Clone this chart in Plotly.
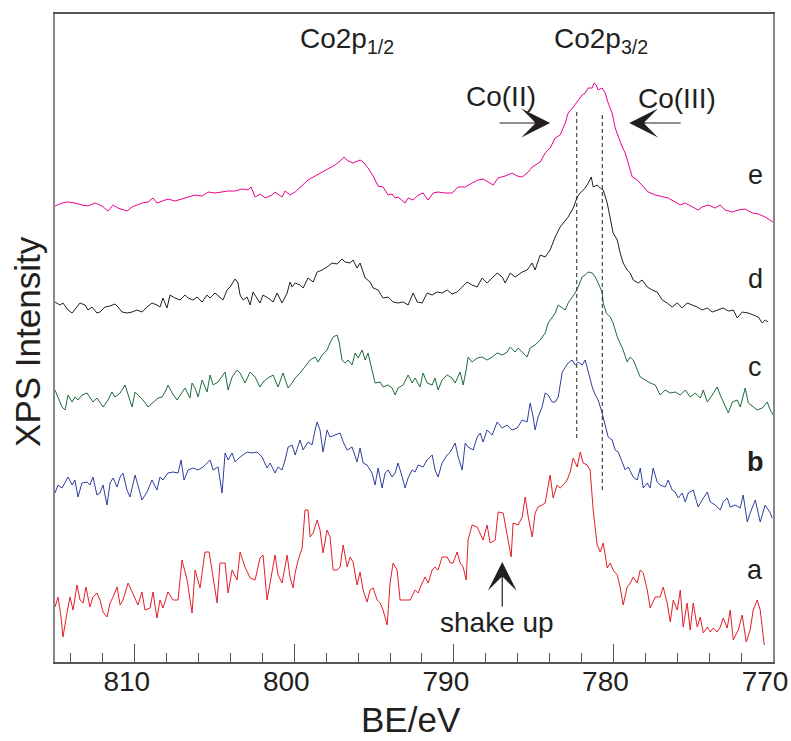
import plotly.graph_objects as go

# ---------------- data (binding energy in eV, intensity in arbitrary units) ----------------
e_be = [815.00,814.56,814.18,813.75,813.31,812.93,812.49,812.05,811.68,811.36,811.05,810.49,810.17,809.55,809.17,808.86,808.61,808.29,807.92,807.48,807.04,806.66,806.22,805.78,805.41,804.97,804.53,804.15,803.71,803.28,802.90,802.71,802.46,802.15,801.83,801.39,801.21,800.77,800.58,800.27,
        799.95,799.51,799.14,798.70,798.26,797.88,797.45,797.13,796.88,796.63,796.32,795.88,795.69,795.38,795.06,794.75,794.44,794.12,793.87,793.68,793.50,793.06,792.87,792.55,792.24,791.93,791.61,791.30,790.99,790.55,790.11,789.73,789.29,788.86,788.48,788.17,787.85,787.54,787.23,786.79,786.35,786.03,785.72,785.34,785.09,
        784.59,784.28,783.97,783.65,783.34,783.02,782.84,782.52,782.21,781.96,781.77,781.58,781.33,781.21,781.08,780.96,780.71,780.52,780.33,780.08,779.89,779.70,779.45,779.26,779.08,778.82,778.51,778.20,777.82,777.38,776.94,776.57,776.13,775.81,775.50,775.06,774.69,774.44,774.06,773.62,773.31,773.00,772.55,772.18,771.74,771.30,770.92,770.49,770.17,770.00]
e_int = [456,459,460,459,457,456,459,456,451,457,454,451,455,459,460,464,459,461,463,461,463,465,467,466,470,469,470,471,471,473,472,475,465,468,464,467,470,465,471,467,
         470,477,482,486,490,493,497,501,505,501,499,502,500,494,486,476,475,467,468,464,465,459,464,462,467,469,462,469,470,469,469,475,475,479,482,483,480,477,484,486,489,486,485,490,495,
         500,509,514,524,527,539,549,555,562,567,569,574,574,579,577,572,574,569,559,549,534,525,515,509,499,485,482,477,470,467,465,464,460,457,459,455,452,455,457,454,457,452,450,452,453,449,448,445,442,440]

d_be = [815.00,814.69,814.50,814.18,813.93,813.62,813.43,813.12,812.93,812.68,812.37,812.18,811.87,811.55,811.24,811.05,810.80,810.49,810.17,809.86,809.55,809.23,808.92,808.61,808.42,808.23,807.98,807.79,807.48,807.16,806.85,806.66,806.35,806.10,805.78,805.47,805.28,804.97,804.66,804.47,804.22,804.03,803.71,803.53,803.40,803.21,802.96,802.77,802.59,802.34,802.15,801.96,801.65,801.33,801.08,800.77,800.45,800.27,800.14,
        799.95,799.64,799.45,799.14,798.82,798.57,798.26,797.95,797.63,797.32,797.01,796.82,796.50,796.32,796.07,795.88,795.56,795.25,795.06,794.75,794.44,794.12,793.81,793.50,793.18,792.87,792.55,792.30,791.99,791.68,791.36,791.05,790.74,790.42,790.11,789.80,789.48,789.17,788.86,788.54,788.23,787.92,787.60,787.29,786.97,786.79,786.47,786.16,785.72,785.41,785.09,
        784.91,784.59,784.28,783.97,783.65,783.34,783.02,782.84,782.52,782.27,782.08,781.77,781.58,781.39,781.27,781.02,780.83,780.64,780.39,780.20,780.02,779.76,779.58,779.39,779.14,778.95,778.76,778.45,778.20,777.88,777.57,777.26,776.94,776.63,776.32,776.00,775.69,775.38,775.06,774.75,774.44,774.12,773.81,773.43,773.12,772.80,772.49,772.24,771.93,771.55,771.24,770.92,770.67,770.49,770.30]
d_int = [360,357,359,352,349,355,359,357,352,355,349,350,355,356,358,355,350,349,350,352,350,355,359,357,355,364,354,367,364,362,367,364,362,365,360,367,364,369,365,362,372,375,383,379,367,362,365,357,370,364,359,367,364,360,369,359,369,380,375,
         379,377,374,384,380,390,392,395,399,398,403,400,399,402,394,399,384,380,374,372,364,365,360,359,360,357,369,360,359,369,367,370,369,372,368,370,375,380,377,375,384,379,384,389,385,379,389,385,390,392,399,
         392,407,405,412,425,435,442,445,454,465,469,474,479,485,475,477,474,472,459,442,429,422,409,399,392,389,382,379,382,375,372,370,362,359,355,359,354,359,357,355,352,354,350,352,354,351,352,344,350,349,347,345,339,342,340]

c_be = [815.00,814.81,814.56,814.37,814.18,813.93,813.75,813.56,813.31,812.99,812.81,812.62,812.37,812.18,811.99,811.68,811.43,811.24,810.92,810.61,810.42,810.17,809.98,809.67,809.48,809.17,808.86,808.54,808.29,808.10,807.92,807.66,807.35,807.16,806.85,806.54,806.41,806.22,806.03,805.78,805.47,805.28,805.09,804.78,804.53,804.34,804.15,803.90,803.59,803.40,803.09,802.77,802.46,802.15,801.96,801.65,801.33,801.02,800.71,800.39,800.14,
        799.95,799.64,799.33,799.01,798.70,798.51,798.26,797.95,797.76,797.57,797.32,797.19,797.01,796.82,796.63,796.38,796.19,796.00,795.75,795.56,795.38,795.13,794.94,794.62,794.44,794.12,793.87,793.68,793.50,793.18,792.87,792.62,792.43,792.12,791.93,791.68,791.36,791.18,790.99,790.74,790.42,790.11,789.92,789.61,789.42,789.23,789.11,788.86,788.54,788.23,787.92,787.60,787.29,786.97,786.66,786.47,786.16,785.97,785.66,785.41,785.22,
        784.91,784.59,784.28,784.09,783.84,783.65,783.46,783.21,783.02,782.84,782.59,782.40,782.21,781.96,781.77,781.58,781.33,781.14,780.96,780.71,780.64,780.45,780.20,780.02,779.76,779.58,779.39,779.14,778.95,778.76,778.51,778.32,778.01,777.70,777.38,777.07,776.76,776.44,776.13,775.81,775.50,775.19,774.87,774.56,774.37,774.12,773.81,773.50,773.31,773.00,772.80,772.55,772.24,772.05,771.74,771.55,771.24,770.99,770.67,770.36,770.17,770.00]
c_int = [272,265,255,252,267,260,265,262,267,269,264,260,264,259,255,262,270,265,269,277,267,255,270,265,262,255,259,264,265,270,277,269,262,267,274,264,279,274,265,282,270,287,277,280,285,290,272,285,292,289,279,290,285,275,280,284,287,275,289,274,279,
         284,289,295,302,305,300,307,312,319,325,327,320,302,299,302,297,309,304,312,302,309,292,279,280,275,277,274,267,274,277,287,279,284,275,289,279,277,284,272,282,287,284,279,290,277,292,305,300,304,305,302,305,309,307,310,315,310,314,309,305,314,
         317,322,329,339,345,349,357,354,352,359,365,369,375,385,387,390,389,385,379,370,359,349,345,339,325,319,312,300,305,302,292,285,282,279,277,267,272,269,270,267,272,265,269,264,272,260,267,275,267,255,249,260,262,255,274,259,255,252,254,260,252,247]

b_be = [815.00,814.81,814.56,814.37,814.18,813.93,813.75,813.56,813.31,812.99,812.81,812.62,812.37,812.18,811.99,811.74,811.55,811.36,811.11,810.92,810.74,810.49,810.30,809.98,809.80,809.55,809.23,808.92,808.61,808.42,808.23,807.92,807.60,807.29,807.10,806.91,806.66,806.35,806.03,805.72,805.28,805.09,804.78,804.53,804.34,804.15,803.90,803.71,803.40,802.96,802.65,802.34,802.02,801.71,801.52,801.21,801.02,800.77,800.58,800.39,800.14,
        799.95,799.64,799.45,799.14,798.89,798.70,798.57,798.39,798.20,797.95,797.76,797.45,797.13,796.94,796.69,796.38,796.07,795.88,795.69,795.44,795.13,794.94,794.75,794.50,794.31,794.12,793.87,793.68,793.50,793.24,793.06,792.87,792.62,792.43,792.24,791.93,791.68,791.36,791.18,790.99,790.74,790.42,790.23,789.92,789.73,789.48,789.29,789.11,788.79,788.54,788.35,788.17,787.92,787.60,787.29,786.97,786.66,786.35,786.03,785.72,785.41,785.22,785.03,
        784.91,784.72,784.47,784.28,784.09,783.84,783.65,783.46,783.21,783.02,782.84,782.59,782.40,782.21,781.96,781.77,781.58,781.33,781.14,780.96,780.71,780.52,780.33,780.08,779.89,779.70,779.45,779.26,779.08,778.76,778.51,778.32,778.13,777.88,777.70,777.51,777.26,777.07,776.76,776.57,776.32,776.13,775.94,775.69,775.50,775.31,775.00,774.69,774.44,774.12,773.93,773.62,773.31,773.12,772.87,772.68,772.37,772.05,771.87,771.61,771.43,771.11,770.80,770.49,770.17,770.05]
b_int = [169,177,174,180,185,177,182,165,179,180,177,185,167,169,177,157,179,184,175,185,189,172,165,187,177,162,170,182,172,185,182,189,190,189,202,182,192,194,192,195,202,192,195,169,209,202,209,200,205,210,209,210,205,194,199,189,195,192,202,215,217,
         207,222,212,220,217,232,240,232,210,232,225,227,229,220,212,215,200,214,199,197,189,177,194,174,189,192,185,189,199,185,174,184,192,190,197,195,202,207,192,185,199,207,210,219,205,192,219,215,212,225,229,220,232,227,240,234,237,232,234,242,240,259,245,
         232,245,255,269,267,260,260,265,290,294,299,302,297,300,297,302,290,275,267,262,249,237,225,222,212,210,200,192,195,185,182,194,174,179,174,194,180,177,175,182,172,170,164,169,160,169,172,155,162,170,160,157,152,160,164,155,157,154,167,140,149,162,140,157,149,144]

a_be = [815.00,814.81,814.62,814.50,814.25,814.06,813.87,813.62,813.43,813.24,813.06,812.81,812.62,812.37,812.18,811.99,811.74,811.55,811.36,811.11,810.92,810.74,810.42,810.17,809.98,809.80,809.55,809.36,809.04,808.86,808.61,808.42,808.23,807.92,807.60,807.29,807.04,806.72,806.41,806.22,805.91,805.60,805.34,805.09,804.84,804.66,804.34,804.15,803.90,803.59,803.40,803.09,802.77,802.46,802.15,801.96,801.71,801.52,801.21,801.02,800.77,800.45,800.27,800.08,
        799.95,799.76,799.51,799.33,799.14,799.01,798.82,798.57,798.39,798.20,797.95,797.76,797.57,797.32,797.13,796.94,796.69,796.50,796.32,796.07,795.88,795.69,795.44,795.25,795.06,794.81,794.62,794.44,794.18,794.00,793.81,793.56,793.37,793.06,792.74,792.43,792.24,791.99,791.80,791.61,791.36,791.18,790.99,790.74,790.42,790.23,790.05,789.80,789.61,789.42,789.23,789.11,788.86,788.54,788.35,788.17,787.92,787.73,787.41,787.23,786.91,786.60,786.41,786.29,785.97,785.72,785.53,785.34,785.09,
        784.91,784.72,784.47,784.28,783.97,783.78,783.53,783.34,783.15,782.90,782.71,782.52,782.27,782.08,781.90,781.65,781.46,781.27,781.02,780.83,780.64,780.39,780.20,780.02,779.76,779.58,779.39,779.14,778.95,778.76,778.51,778.32,778.13,777.88,777.70,777.38,777.07,776.88,776.63,776.44,776.25,776.00,775.81,775.63,775.38,775.19,775.00,774.75,774.56,774.37,774.12,773.93,773.75,773.50,773.31,773.12,772.87,772.68,772.49,772.18,771.93,771.68,771.43,771.24,770.99,770.80,770.55]
a_int = [55,65,45,25,49,65,52,77,62,59,75,55,65,69,62,50,45,59,65,75,57,62,79,70,62,57,70,52,54,70,44,62,54,70,62,62,102,82,49,92,74,110,110,82,59,99,99,69,92,82,110,95,84,82,104,107,62,79,107,87,79,107,85,74,
         89,102,114,152,152,125,129,142,132,109,132,125,92,92,95,117,95,105,100,77,90,72,60,72,74,62,59,52,37,79,99,92,62,62,62,72,69,79,85,79,92,95,92,105,105,99,99,110,99,95,82,122,137,135,129,122,137,119,122,150,149,119,105,139,137,145,165,145,125,
         149,155,157,159,187,164,177,174,177,182,190,204,195,210,199,197,192,152,117,110,119,94,99,92,87,75,57,75,79,85,79,92,89,72,54,65,65,75,59,40,62,52,72,35,59,32,59,35,45,29,35,30,34,30,35,44,34,52,22,32,47,20,32,52,62,52,17]

series = [
    ("e", e_be, e_int, "#EC008C"),
    ("d", d_be, d_int, "#231F20"),
    ("c", c_be, c_int, "#1E6B3C"),
    ("b", b_be, b_int, "#2E3F9E"),
    ("a", a_be, a_int, "#E41E26"),
]

# curve labels (BE, intensity)
label_text = ["e", "d", "c", "<b>b</b>", "a"]
label_be = [771.1, 771.1, 771.1, 771.1, 771.1]
label_int = [487, 383, 295, 200, 92]

# dashed reference lines at the Co(II) / Co(III) positions
dash_be = [782.3, 780.7]
dash_top = [550, 547]
dash_bottom = [222, 172]

x_ticks = [810, 800, 790, 780, 770]

FONT = "Liberation Sans, Arial, Helvetica, sans-serif"
TXT = "#231F20"

fig = go.Figure()
for name, xs, ys, col in series:
    fig.add_trace(go.Scatter(x=xs, y=ys, mode="lines", name=name,
                             line=dict(color=col, width=1.0), showlegend=False,
                             hoverinfo="skip"))

for bx, yt, yb in zip(dash_be, dash_top, dash_bottom):
    fig.add_trace(go.Scatter(x=[bx, bx], y=[yt, yb], mode="lines", showlegend=False,
                             line=dict(color="#231F20", width=1, dash="4px,3px"),
                             hoverinfo="skip"))

annotations = []
for t, bx, iy in zip(label_text, label_be, label_int):
    annotations.append(dict(x=bx, y=iy, xref="x", yref="y", text=t, showarrow=False,
                            xanchor="center", yanchor="middle",
                            font=dict(size=27, color=TXT, family=FONT)))

# peak names
annotations.append(dict(x=799.8, y=622, xref="x", yref="y", xanchor="left", yanchor="middle",
                        text="Co2p<sub>1/2</sub>", showarrow=False,
                        font=dict(size=28, color=TXT, family=FONT)))
annotations.append(dict(x=783.85, y=622, xref="x", yref="y", xanchor="left", yanchor="middle",
                        text="Co2p<sub>3/2</sub>", showarrow=False,
                        font=dict(size=28, color=TXT, family=FONT)))
annotations.append(dict(x=787.03, y=566, xref="x", yref="y", text="Co(II)", showarrow=False,
                        xanchor="center", yanchor="middle",
                        font=dict(size=28, color=TXT, family=FONT)))
annotations.append(dict(x=776.0, y=564, xref="x", yref="y", text="Co(III)", showarrow=False,
                        xanchor="center", yanchor="middle",
                        font=dict(size=28, color=TXT, family=FONT)))
annotations.append(dict(x=787.29, y=40, xref="x", yref="y", text="shake up", showarrow=False,
                        xanchor="center", yanchor="middle",
                        font=dict(size=28, color=TXT, family=FONT)))

# arrows
arrow_style = dict(showarrow=True, arrowhead=3, arrowsize=4, arrowwidth=1.2,
                   arrowcolor=TXT, text="", xref="x", yref="y", axref="x", ayref="y")
annotations.append(dict(x=783.97, y=539, ax=787.23, ay=539, **arrow_style))
annotations.append(dict(x=779.01, y=539, ax=775.69, ay=539, **arrow_style))
annotations.append(dict(x=786.97, y=100, ax=786.97, ay=54, **arrow_style))

# axis titles
annotations.append(dict(x=0.496, y=-0.1215, xref="paper", yref="paper", text="BE/eV",
                        xanchor="center", yanchor="bottom", showarrow=False,
                        font=dict(size=35, color=TXT, family=FONT)))
annotations.append(dict(x=-0.038, y=0.495, xref="paper", yref="paper", text="XPS Intensity",
                        xanchor="center", yanchor="middle",
                        textangle=-90, showarrow=False,
                        font=dict(size=35, color=TXT, family=FONT)))

fig.update_layout(
    width=791, height=741,
    margin=dict(l=55, r=18, t=14, b=79, autoexpand=False),
    paper_bgcolor="white", plot_bgcolor="white",
    annotations=annotations,
    font=dict(family=FONT, color=TXT),
)
fig.update_xaxes(
    range=[815, 770], autorange=False, automargin=False,
    tickmode="array", tickvals=x_ticks, ticktext=[str(v) for v in x_ticks],
    ticks="inside", ticklen=18, tickwidth=1.3, tickcolor="#555",
    minor=dict(dtick=2, tick0=770, ticks="inside", ticklen=9, tickwidth=1.2, tickcolor="#555", showgrid=False),
    tickfont=dict(size=28, color=TXT, family=FONT),
    ticklabelshift=8, ticklabelstandoff=-6,
    showline=True, linecolor="#555", linewidth=1.5, mirror=True,
    showgrid=False, zeroline=False,
)
fig.update_yaxes(
    range=[0, 648], autorange=False, automargin=False,
    showticklabels=False, ticks="",
    showline=True, linecolor="#888", linewidth=1.5, mirror=True,
    showgrid=False, zeroline=False,
)

fig.write_html("out.html")
